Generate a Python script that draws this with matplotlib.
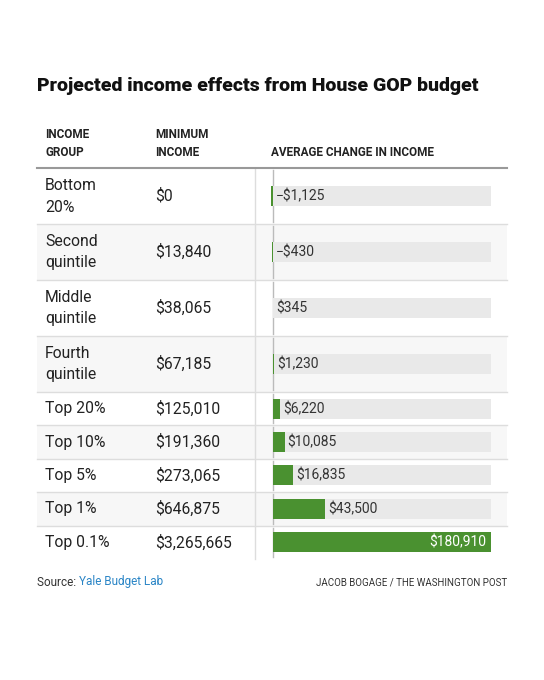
import matplotlib.pyplot as plt
from matplotlib.patches import Rectangle

plt.rcParams['font.family'] = ['Roboto', 'DejaVu Sans']

# data
groups = [['Bottom', '20%'], ['Second', 'quintile'], ['Middle', 'quintile'],
          ['Fourth', 'quintile'], ['Top 20%'], ['Top 10%'], ['Top 5%'],
          ['Top 1%'], ['Top 0.1%']]
min_income = ['$0', '$13,840', '$38,065', '$67,185', '$125,010',
              '$191,360', '$273,065', '$646,875', '$3,265,665']
avg_change = [-1125, -430, 345, 1230, 6220, 10085, 16835, 43500, 180910]
change_labels = ['\u2212$1,125', '\u2212$430', '$345', '$1,230', '$6,220',
                 '$10,085', '$16,835', '$43,500', '$180,910']

W, H = 544, 680
green = '#4a9130'
dark = '#222222'

fig = plt.figure(figsize=(W / 100, H / 100), dpi=100)
ax = fig.add_axes([0, 0, 1, 1])
ax.set_xlim(0, W)
ax.set_ylim(H, 0)
ax.axis('off')

# row layout (pixels)
top = 168
tall, short = 56, 33.4
heights = [tall if len(g) == 2 else short for g in groups]
tops = []
y = top
for h in heights:
    tops.append(y)
    y += h
bottom = y
centers = [t + h / 2 for t, h in zip(tops, heights)]

ax.text(37, 86, 'Projected income effects from House GOP budget',
        fontsize=14, fontweight=900, color='#111111', va='center')

hdr = dict(fontsize=8.5, fontweight='bold', color=dark, va='center')
ax.text(45, 134, 'INCOME', **hdr)
ax.text(45, 152, 'GROUP', **hdr)
ax.text(155, 134, 'MINIMUM', **hdr)
ax.text(155, 152, 'INCOME', **hdr)
ax.text(271, 152, 'AVERAGE CHANGE IN INCOME', **hdr)

body = dict(fontsize=11.3, color=dark, va='center')
for i, (t, h, c) in enumerate(zip(tops, heights, centers)):
    if i % 2 == 1:
        ax.add_patch(Rectangle((37, t), 470, h, color='#f7f7f7', lw=0,
                               zorder=0))
    if i > 0:
        ax.plot([37, 507], [t, t], color='#dddddd', lw=1, zorder=1)
    lines = groups[i]
    if len(lines) == 2:
        ax.text(45, c - 11, lines[0], **body)
        ax.text(45, c + 11, lines[1], **body)
    else:
        ax.text(45, c, lines[0], **body)
    ax.text(155, c, min_income[i], **body)
    ax.plot([272.5, 272.5], [t + 2, t + h - 2], color='#bbbbbb', lw=1,
            zorder=1)

ax.plot([37, 507], [top, top], color='#999999', lw=1.5, zorder=2)
ax.plot([255, 255], [top, bottom], color='#dddddd', lw=1, zorder=1)

# bars
x0, x1 = 272.5, 490.5
vmax = max(avg_change)
axb = fig.add_axes([x0 / W, 0, (x1 - x0) / W, 1])
axb.set_xlim(0, vmax)
axb.set_ylim(H, 0)
axb.axis('off')
axb.patch.set_alpha(0)
axb.barh(centers, [vmax] * len(centers), height=20, color='#e9e9e9',
         zorder=1)
axb.barh(centers, avg_change, height=20, color=green, zorder=2,
         clip_on=False)
for v, lab, c in zip(avg_change, change_labels, centers):
    if v == vmax:
        axb.annotate(lab, (v, c), xytext=(-4, 0), textcoords='offset pixels',
                     ha='right', va='center', fontsize=10, color='white')
    else:
        axb.annotate(lab, (max(v, 0), c), xytext=(3, 0),
                     textcoords='offset pixels', ha='left', va='center',
                     fontsize=10, color='#333333')

# footer
src = ax.text(37, 582, 'Source: ', fontsize=8.5, color='#333333',
              va='center')
ax.annotate('Yale Budget Lab', xy=(1, 0.5), xycoords=src, va='center',
            fontsize=8.5, color='#2a85c6')
ax.text(507, 582, 'JACOB BOGAGE / THE WASHINGTON POST', fontsize=7,
        color='#333333', va='center', ha='right')

fig.savefig('out.png', dpi=100, facecolor='white')
